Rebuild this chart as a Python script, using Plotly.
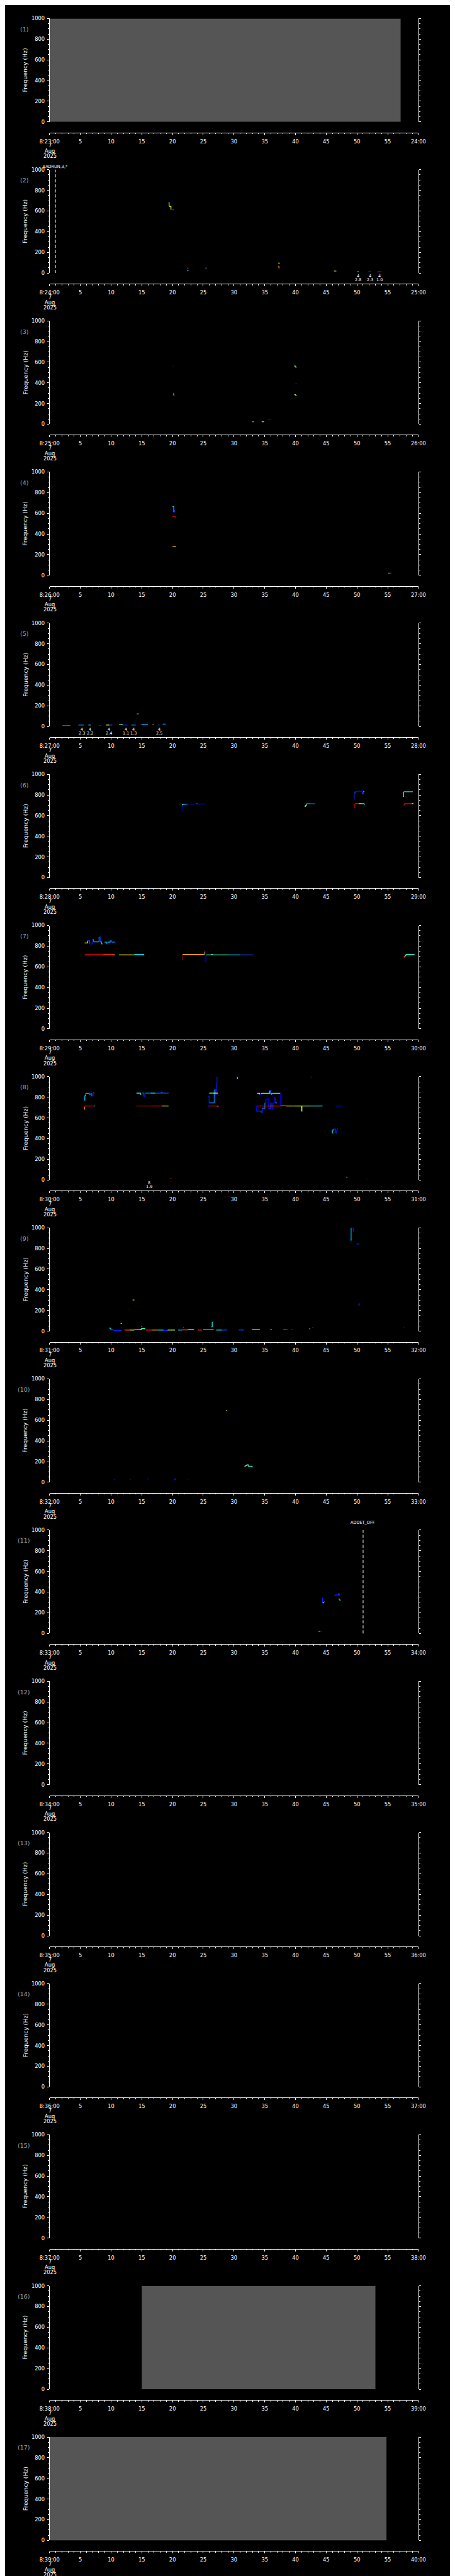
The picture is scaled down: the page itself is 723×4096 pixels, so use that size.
import plotly.graph_objects as go
from plotly.colors import sample_colorscale

# ---------------- data ----------------
N_PANELS = 17
minute_starts = [23 + i for i in range(N_PANELS)]          # 8:23 ... 8:39
date_lines = ["7", "Aug", "2025"]
freq_ticks = [0, 200, 400, 600, 800, 1000]
sec_ticks = [0, 5, 10, 15, 20, 25, 30, 35, 40, 45, 50, 55, 60]
panel_names = ["(%d)" % (i + 1) for i in range(N_PANELS)]

# no-data (grey) spans: panel, t0, t1 (seconds)
gray_spans = [(1, 0.0, 57.1), (16, 15.0, 53.0), (17, 0.0, 54.8)]

# event markers: panel, time (s), text
events = [(2, 0.95, "$ADRUN,3,*"), (11, 51.0, "ADDET_OFF")]

# count labels under detections: panel, time, line1, line2
count_labels = [
    (2, 50.17, "4", "2.8"), (2, 52.1, "4", "2.3"), (2, 53.67, "4", "1.0"),
    (5, 5.21, "4", "2.3"), (5, 6.57, "4", "2.2"), (5, 9.69, "4", "2.4"),
    (5, 12.41, "4", "1.1"), (5, 13.68, "4", "1.3"), (5, 17.84, "4", "2.5"),
    (8, 16.2, "8", "1.9"),
]

# tracks: (times s, freqs Hz, level per segment 0..1)
tracks_p2 = [
    ([19.35, 19.45, 19.75, 20.1, 20.15], [680, 645, 612, 612, 620], [0.55, 0.62, 0.15, 0.2]),
    ([22.35, 22.6], [48, 48], [0.85]),
    ([22.35, 22.6], [23, 23], [0.3]),
    ([25.35, 25.55], [48, 48], [0.35]),
    ([37.2, 37.45], [96, 96], [0.55]),
    ([37.2, 37.3, 37.5], [66, 48, 48], [0.75, 0.2]),
    ([46.25, 46.65], [19, 19], [0.58]),
    ([50.05, 50.3], [14, 14], [0.3]),
    ([51.85, 52.3], [14, 14], [0.15]),
    ([53.33, 54.0], [14, 14], [0.15]),
]
tracks_p3 = [
    ([20.05, 20.2], [563, 563], [0.1]),
    ([20.1, 20.2, 20.3], [295, 280, 280], [0.4, 0.6]),
    ([32.9, 33.3], [24, 24], [0.3]),
    ([34.5, 34.9], [24, 24], [0.45]),
    ([35.6, 35.9], [45, 45], [0.15]),
    ([39.8, 39.95, 40.2], [563, 553, 553], [0.5, 0.6]),
    ([40.0, 40.2], [392, 392], [0.15]),
    ([39.8, 40.0, 40.2], [285, 278, 278], [0.5, 0.72]),
]
tracks_p4 = [
    ([20.0, 20.2, 20.35], [666, 612, 632], [0.35, 0.15]),
    ([20.0, 20.2, 20.5], [572, 566, 559], [0.85, 0.9]),
    ([20.0, 20.6], [278, 278], [0.7]),
    ([55.1, 55.35, 55.6], [21, 21, 21], [0.75, 0.2]),
]
tracks_p5 = [
    ([2.1, 3.4], [10, 10], [0.22]),
    ([4.7, 5.6], [14, 14], [0.25]),
    ([6.3, 6.7], [14, 14], [0.3]),
    ([8.1, 8.4], [10, 10], [0.15]),
    ([9.2, 9.7, 10.2], [14, 14, 14], [0.6, 0.2]),
    ([11.3, 11.8, 12.7], [21, 14, 14], [0.5, 0.15]),
    ([13.3, 14.0], [14, 14], [0.25]),
    ([14.2, 14.5], [122, 122], [0.35]),
    ([14.9, 16.0], [17, 17], [0.3]),
    ([16.75, 16.95], [21, 21], [0.5]),
    ([17.7, 18.0], [14, 14], [0.15]),
    ([18.4, 18.9], [23, 23], [0.3]),
]
tracks_p6 = [
    ([21.5, 21.55, 21.7, 22.3, 23.8, 24.0, 25.4], [650, 705, 710, 712, 716, 712, 712],
     [0.12, 0.45, 0.3, 0.15, 0.2, 0.15]),
    ([41.0, 41.1], [186, 186], [0.03]),
    ([41.5, 41.6, 41.8, 42.3, 43.2], [688, 700, 715, 715, 715], [0.5, 0.45, 0.35, 0.25]),
    ([49.5, 49.55, 49.7, 50.2, 50.4, 50.8, 50.85, 51.0, 51.2], [759, 820, 834, 838, 834, 848, 812, 834, 834],
     [0.15, 0.2, 0.12, 0.15, 0.1, 0.1, 0.25, 0.3]),
    ([49.5, 49.6, 49.8, 50.3, 50.9, 51.15, 51.2], [676, 713, 716, 716, 716, 712, 705],
     [0.95, 0.88, 0.85, 0.65, 0.4, 0.35]),
    ([57.5, 57.6, 59.1], [785, 831, 831], [0.45, 0.35]),
    ([57.5, 57.7, 58.9, 59.1], [702, 716, 716, 722], [0.95, 0.88, 0.65]),
]
tracks_p7 = [
    ([5.7, 6.2, 6.5, 6.95, 7.15, 8.05, 8.25, 8.45, 8.6], [831, 852, 822, 862, 841, 888, 841, 822, 822],
     [0.6, 0.2, 0.15, 0.25, 0.3, 0.15, 0.3, 0.55]),
    ([8.95, 9.25, 9.4, 9.85, 10.1, 10.65], [838, 822, 838, 852, 838, 838], [0.3, 0.15, 0.3, 0.2, 0.25]),
    ([5.7, 5.8, 8.7, 10.3, 10.65], [709, 719, 719, 715, 715], [0.97, 0.93, 0.85, 0.63]),
    ([11.3, 13.7, 13.8, 15.3, 15.35], [715, 715, 719, 715, 709], [0.63, 0.45, 0.35, 0.3]),
    ([21.55, 21.65, 25.2, 25.3, 25.45, 26.3, 26.5, 29.1, 31.0, 33.1],
     [669, 719, 748, 650, 715, 719, 715, 715, 715, 715],
     [0.97, 0.7, 0.04, 0.04, 0.45, 0.4, 0.45, 0.33, 0.2]),
    ([57.6, 57.75, 57.95, 59.3], [693, 705, 719, 715], [0.8, 0.6, 0.4]),
]
tracks_p8 = [
    ([5.63, 5.74, 5.9, 6.44, 6.6, 6.86, 7.09, 7.2, 7.3], [774, 816, 839, 825, 835, 813, 845, 839, 839],
     [0.35, 0.33, 0.3, 0.2, 0.25, 0.15, 0.2, 0.2]),
    ([5.63, 5.7, 5.75, 7.25, 7.37], [684, 708, 716, 716, 716], [0.75, 0.88, 0.9, 0.4]),
    ([14.13, 14.78, 15.0, 15.36, 15.59, 16.5, 17.2, 18.2, 18.35, 19.37],
     [840, 825, 840, 806, 840, 840, 840, 848, 840, 840],
     [0.45, 0.15, 0.2, 0.12, 0.25, 0.35, 0.2, 0.2, 0.2]),
    ([14.13, 16.5, 18.25, 19.3, 19.37], [716, 716, 716, 716, 716], [0.95, 0.9, 0.66, 0.4]),
    ([19.6, 19.7, 19.85], [13, 13, 13], [0.85, 0.15]),
    ([25.83, 25.95, 26.78, 27.0, 27.12, 27.17, 27.24], [809, 746, 874, 828, 868, 938, 1000],
     [0.15, 0.25, 0.15, 0.15, 0.15, 0.15]),
    ([25.95, 26.5, 27.4], [840, 840, 840], [0.45, 0.6]),
    ([25.7, 25.85, 27.2, 27.4], [712, 716, 716, 708], [0.08, 0.9, 0.75]),
    ([30.5, 30.55, 30.9], [978, 997, 997], [0.45, 0.15]),
    ([42.45, 42.7], [996, 996], [0.15]),
    ([33.75, 34.16, 34.39, 35.83, 35.95, 36.07, 36.19, 37.55, 37.57],
     [839, 828, 839, 866, 839, 826, 839, 839, 720],
     [0.5, 0.15, 0.45, 0.15, 0.4, 0.15, 0.4, 0.12]),
    ([33.6, 33.63, 34.42, 34.6, 35.02, 35.2, 35.65, 35.95, 36.13, 36.35, 36.55, 36.69, 36.97],
     [716, 667, 652, 694, 746, 785, 691, 746, 691, 746, 796, 746, 746],
     [0.12, 0.2, 0.15, 0.25, 0.15, 0.12, 0.15, 0.12, 0.15, 0.12, 0.15, 0.25]),
    ([33.68, 35.5, 36.5, 37.6, 38.5, 39.7, 40.98, 41.0, 41.05, 42.5, 44.4],
     [716, 716, 716, 718, 716, 716, 716, 665, 716, 716, 716],
     [0.92, 0.85, 0.88, 0.72, 0.66, 0.62, 0.62, 0.62, 0.5, 0.38]),
    ([46.6, 47.75], [716, 716], [0.12]),
    ([45.95, 46.0, 46.15, 46.25, 46.54, 46.7, 46.8], [454, 483, 493, 493, 454, 483, 507],
     [0.35, 0.3, 0.15, 0.15, 0.15, 0.15]),
    ([48.25, 48.45], [26, 26], [0.35]),
    ([51.6, 51.8], [9, 9], [0.12]),
]
tracks_p9 = [
    ([9.7, 9.95, 10.3, 11.75], [29, 14, 7, 7], [0.35, 0.2, 0.15]),
    ([12.2, 13.0, 13.7, 14.4], [11, 11, 14, 14], [0.8, 0.65, 0.72]),
    ([14.4, 14.9, 15.5], [14, 24, 17], [0.6, 0.45]),
    ([15.7, 16.6, 17.6], [11, 11, 11], [0.85, 0.75]),
    ([17.6, 18.5, 19.2, 20.4], [11, 6, 10, 10], [0.35, 0.15, 0.55]),
    ([20.9, 21.5, 22.5, 23.5], [10, 12, 14, 14], [0.3, 0.8, 0.65]),
    ([24.1, 24.8], [10, 10], [0.85]),
    ([25.0, 26.7], [19, 19], [0.4]),
    ([27.1, 28.0, 28.9], [10, 10, 10], [0.35, 0.2]),
    ([30.8, 31.6], [10, 10], [0.2]),
    ([32.9, 34.2], [14, 14], [0.45]),
    ([35.9, 36.15], [19, 19], [0.35]),
    ([38.0, 38.7], [19, 19], [0.25]),
    ([39.35, 39.5], [14, 14], [0.2]),
    ([42.2, 42.4], [23, 23], [0.8]),
    ([42.75, 42.9], [31, 31], [0.35]),
    ([57.6, 57.85], [31, 31], [0.2]),
    ([11.55, 11.75], [74, 74], [0.55]),
    ([12.95, 13.05], [212, 212], [0.2]),
    ([13.5, 13.8], [301, 301], [0.4]),
    ([14.9, 15.05], [47, 47], [0.35]),
    ([21.75, 21.85], [36, 36], [0.85]),
    ([26.35, 26.45, 26.6], [43, 86, 86], [0.4, 0.35]),
    ([48.9, 49.05, 49.35, 49.4], [881, 997, 997, 964], [0.3, 0.15, 0.15]),
    ([49.95, 50.1, 50.3], [842, 842, 852], [0.15, 0.15]),
    ([50.2, 50.3, 50.4], [251, 260, 269], [0.15, 0.15]),
]
tracks_p10 = [
    ([10.45, 10.65], [24, 24], [0.15]),
    ([13.05, 13.2], [30, 30], [0.15]),
    ([15.95, 16.1], [32, 32], [0.15]),
    ([20.2, 20.35, 20.55], [22, 32, 32], [0.15, 0.2]),
    ([22.35, 22.5], [24, 24], [0.15]),
    ([28.75, 28.9], [696, 696], [0.62]),
    ([31.7, 31.85, 32.05, 32.3, 32.9, 33.0], [154, 162, 169, 156, 150, 146], [0.4, 0.45, 0.5, 0.4, 0.35]),
]
tracks_p11 = [
    ([43.75, 44.0, 44.3], [22, 22, 22], [0.6, 0.15]),
    ([44.25, 44.4, 44.6, 44.75], [343, 296, 306, 306], [0.15, 0.35, 0.25]),
    ([46.3, 46.6, 46.8, 46.95, 47.1, 47.2], [365, 380, 365, 385, 371, 371], [0.15, 0.12, 0.15, 0.2, 0.15]),
    ([47.0, 47.1, 47.25], [334, 325, 315], [0.3, 0.35]),
]
panel_tracks = {2: tracks_p2, 3: tracks_p3, 4: tracks_p4, 5: tracks_p5, 6: tracks_p6,
                7: tracks_p7, 8: tracks_p8, 9: tracks_p9, 10: tracks_p10, 11: tracks_p11}

# ---------------- style / geometry (reference pixels) ----------------
REF_W, REF_H = 1024.0, 5802.0
X0, X1 = 80.7, 944.3
PLOT_TOP, PLOT_BOT, XAXIS_Y = 23.3, 256.7, 280.7
DATE_Y = [310.0, 322.7, 334.3]
EVENT_LABEL_DY = {2: 16.0, 11: 6.6}
FONT = "DejaVu Sans"
TICK_FONT = dict(family=FONT, size=8.3, color="white")
JET = [[0.0, "rgb(0,0,140)"], [0.12, "rgb(0,0,255)"], [0.37, "rgb(0,255,255)"],
       [0.5, "rgb(128,255,128)"], [0.63, "rgb(255,255,0)"], [0.88, "rgb(255,0,0)"],
       [1.0, "rgb(128,0,0)"]]
GREY = "#555555"


def px(x):
    return x / REF_W


def py(y):
    return 1.0 - y / REF_H


fig = go.Figure()
layout = dict(width=723, height=4096, margin=dict(l=0, r=0, t=0, b=0),
              paper_bgcolor="black", plot_bgcolor="black", showlegend=False,
              annotations=[], shapes=[])

for k in range(N_PANELS):
    pid = k + 1
    sfx = "" if pid == 1 else str(pid)
    T = k * REF_H / N_PANELS
    m = minute_starts[k]
    ticktext = ["8:%02d:00" % m] + [str(v) for v in sec_ticks[1:-1]] + ["%02d:00" % (m + 1)]
    layout["xaxis" + sfx] = dict(
        domain=[px(X0), px(X1)], anchor="free", position=py(T + XAXIS_Y),
        range=[0, 60], tickmode="array", tickvals=sec_ticks, ticktext=ticktext,
        ticks="outside", ticklen=3, tickwidth=1, tickcolor="white",
        showline=True, linecolor="white", linewidth=1, showgrid=False, zeroline=False,
        tickfont=TICK_FONT, ticklabelstandoff=3,
        minor=dict(tickmode="linear", tick0=0, dtick=1, ticks="outside", ticklen=1.6,
                   tickwidth=1, tickcolor="white", showgrid=False),
        fixedrange=True)
    layout["yaxis" + sfx] = dict(
        domain=[py(T + PLOT_BOT), py(T + PLOT_TOP)], anchor="x" + sfx,
        range=[0, 1000], tickmode="array", tickvals=freq_ticks,
        ticktext=[str(v) for v in freq_ticks],
        ticks="outside", ticklen=3, tickwidth=1, tickcolor="white",
        showline=True, linecolor="white", linewidth=1, mirror="ticks",
        showgrid=False, zeroline=False, tickfont=TICK_FONT, ticklabelstandoff=2,
        minor=dict(tickmode="linear", tick0=0, dtick=50, ticks="outside", ticklen=1.6,
                   tickwidth=1, tickcolor="white", showgrid=False),
        fixedrange=True)

    # placeholder trace so that every subplot (even empty ones) is drawn
    fig.add_trace(go.Scatter(x=[None], y=[None], mode="lines",
                             xaxis="x" + sfx, yaxis="y" + sfx, hoverinfo="skip"))

    # panel number and y title
    layout["annotations"].append(dict(
        text=panel_names[k], x=px(21), y=py(T + 47.3), xref="paper", yref="paper",
        showarrow=False, xanchor="center", yanchor="middle",
        font=dict(family=FONT, size=9.5, color="#a0a0a0")))
    layout["annotations"].append(dict(
        text="Frequency (Hz)", x=px(23.5), y=py(T + 140), xref="paper", yref="paper",
        showarrow=False, xanchor="center", yanchor="middle", textangle=-90,
        font=dict(family=FONT, size=9.3, color="white")))
    for line, dy in zip(date_lines, DATE_Y):
        layout["annotations"].append(dict(
            text=line, x=px(81.5), y=py(T + dy), xref="paper", yref="paper",
            showarrow=False, xanchor="center", yanchor="middle", font=TICK_FONT))

# grey no-data spans
for pid, t0, t1 in gray_spans:
    sfx = "" if pid == 1 else str(pid)
    fig.add_trace(go.Scatter(
        x=[t0, t1, t1, t0, t0], y=[freq_ticks[0], freq_ticks[0], freq_ticks[-1], freq_ticks[-1], freq_ticks[0]],
        mode="lines", fill="toself", fillcolor=GREY, line=dict(width=0, color=GREY),
        xaxis="x" + sfx, yaxis="y" + sfx, hoverinfo="skip"))

# tracks as stepped lines, coloured by level
for pid, tracks in panel_tracks.items():
    sfx = "" if pid == 1 else str(pid)
    groups = {}
    for ts, fs, lv in tracks:
        for i in range(len(ts) - 1):
            xs, ys = groups.setdefault(lv[i], ([], []))
            xs += [ts[i], ts[i + 1], ts[i + 1], None]
            ys += [fs[i], fs[i], fs[i + 1], None]
    for lvl, (xs, ys) in groups.items():
        col = sample_colorscale(JET, [lvl])[0]
        fig.add_trace(go.Scatter(x=xs, y=ys, mode="lines",
                                 line=dict(color=col, width=1.2),
                                 xaxis="x" + sfx, yaxis="y" + sfx, hoverinfo="skip"))

# events
for pid, t, txt in events:
    sfx = "" if pid == 1 else str(pid)
    T = (pid - 1) * REF_H / N_PANELS
    layout["shapes"].append(dict(type="line", xref="x" + sfx, yref="y" + sfx + " domain",
                                 x0=t, x1=t, y0=0, y1=1,
                                 line=dict(color="white", width=1, dash="5px,3px")))
    layout["annotations"].append(dict(
        text=txt, x=t, y=py(T + EVENT_LABEL_DY[pid]), xref="x" + sfx, yref="paper",
        showarrow=False, xanchor="center", yanchor="middle",
        font=dict(family=FONT, size=6.5, color="white")))

# count labels
for pid, t, a, b in count_labels:
    sfx = "" if pid == 1 else str(pid)
    T = (pid - 1) * REF_H / N_PANELS
    for txt, dy in ((a, 263.2), (b, 272.4)):
        layout["annotations"].append(dict(
            text=txt, x=t, y=py(T + dy), xref="x" + sfx, yref="paper",
            showarrow=False, xanchor="center", yanchor="middle",
            font=dict(family=FONT, size=6.5, color="white")))

fig.update_layout(**layout)
fig.write_html("out.html")
